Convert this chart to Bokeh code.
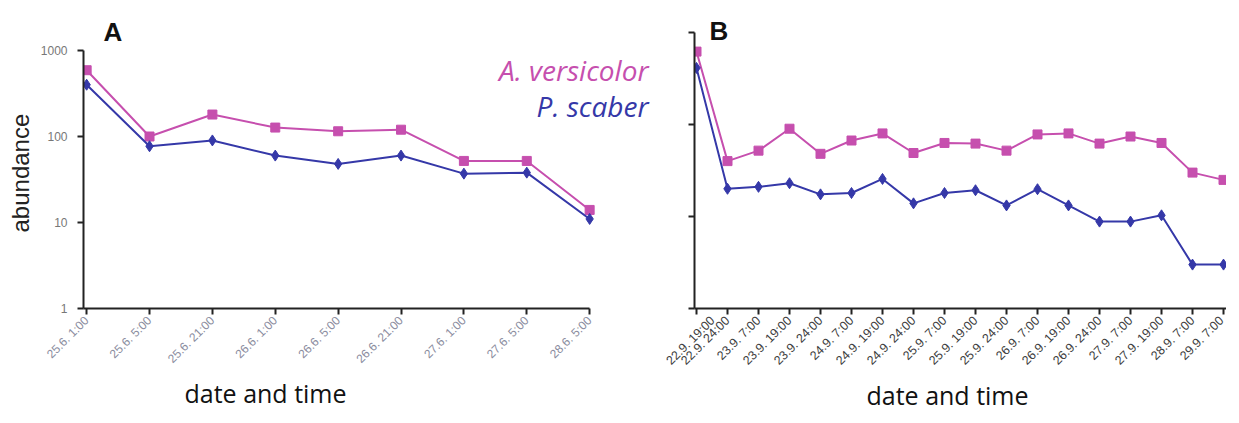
import math
from bokeh.plotting import figure
from bokeh.layouts import row
from bokeh.models import (Range1d, FixedTicker, Label, CustomJSTickFormatter,
                          NumeralTickFormatter, Title)
from bokeh.embed import file_html
from bokeh.resources import INLINE

# ---- data ----
labels_a = ["25.6. 1:00", "25.6. 5:00", "25.6. 21:00", "26.6. 1:00", "26.6. 5:00",
            "26.6. 21:00", "27.6. 1:00", "27.6. 5:00", "28.6. 5:00"]
versicolor_a = [590, 100, 180, 127, 115, 120, 52, 52, 14]
scaber_a = [400, 77, 90, 60, 48, 60, 37, 38, 11]

labels_b = ["22.9. 19:00", "22.9. 24:00", "23.9. 7:00", "23.9. 19:00", "23.9. 24:00",
            "24.9. 7:00", "24.9. 19:00", "24.9. 24:00", "25.9. 7:00", "25.9. 19:00",
            "25.9. 24:00", "26.9. 7:00", "26.9. 19:00", "26.9. 24:00", "27.9. 7:00",
            "27.9. 19:00", "28.9. 7:00", "29.9. 7:00"]
versicolor_b = [620, 40, 52, 90, 48, 67, 80, 49, 63, 62, 52, 78, 80, 62, 74, 63, 30, 25]
scaber_b = [412, 20, 21, 23, 17.4, 18, 25.6, 13.9, 18, 19.3, 13.2, 19.8, 13.2, 8.8, 8.8, 10.3, 3.0, 3.0]

PINK = "#C64FAE"
BLUE = "#3538A8"
FRAME_H = 308        # frame from page y 8 to 316
BOTTOM = 99


def style_axes(p, xlab_color, xlab_size):
    for ax in (p.xaxis[0], p.yaxis[0]):
        ax.axis_line_width = 2
        ax.axis_line_color = "#222222"
        ax.major_tick_line_width = 2
        ax.major_tick_line_color = "#222222"
        ax.major_tick_out = 6
        ax.major_tick_in = 0
        ax.minor_tick_line_color = None
    p.xaxis.major_label_orientation = math.pi / 4
    p.xaxis.major_label_text_color = xlab_color
    p.xaxis.major_label_text_font = "Liberation Sans"
    p.xaxis.major_label_text_font_size = xlab_size
    p.xaxis.major_label_standoff = 4
    p.xgrid.visible = False
    p.ygrid.visible = False
    p.outline_line_color = None


def xtitle(offset):
    return Title(text="date and time", align="left", offset=offset, standoff=0,
                 text_font="Open Sans", text_font_style="normal",
                 text_font_size="25px", text_color="#111111")


# ---- panel A ----
xa = list(range(len(labels_a)))
fwA = 580
pA = figure(frame_width=fwA, frame_height=FRAME_H, y_axis_type="log", output_backend="svg",
            toolbar_location=None, min_border_left=80, min_border_right=0,
            min_border_top=0, min_border_bottom=BOTTOM)
pxA = (591 - 88) / 8.0
startA = -0.05
pA.x_range = Range1d(startA, startA + fwA / pxA)
decA = (316 - 58) / 3.0
pA.y_range = Range1d(1, 10 ** (FRAME_H / decA))
pA.line(xa, versicolor_a, line_color=PINK, line_width=2)
pA.scatter(xa, versicolor_a, marker="square", size=9, fill_color=PINK, line_color=PINK)
pA.line(xa, scaber_a, line_color=BLUE, line_width=2)
pA.scatter(xa, scaber_a, marker="diamond", size=11, fill_color=BLUE, line_color=BLUE)
style_axes(pA, "#8A8C9E", "12px")
pA.xaxis.bounds = (startA, len(labels_a) - 1)
pA.yaxis.bounds = (1, 1000)
pA.xaxis.ticker = FixedTicker(ticks=xa)
pA.xaxis.major_label_overrides = {i: s for i, s in enumerate(labels_a)}
pA.yaxis.ticker = FixedTicker(ticks=[1, 10, 100, 1000])
pA.yaxis.formatter = NumeralTickFormatter(format="0")
pA.yaxis.major_label_text_color = "#777777"
pA.yaxis.major_label_text_font = "Liberation Sans"
pA.yaxis.major_label_text_font_size = "12px"
pA.yaxis.major_label_standoff = 10

pA.add_layout(Title(text="abundance", align="left", offset=76, standoff=8,
                    text_font="Liberation Sans", text_font_style="normal",
                    text_font_size="24px", text_color="#222222"), "left")
pA.add_layout(xtitle(101), "below")

pA.add_layout(Label(x=20, y=316 - 39, x_units="screen", y_units="screen", text="A",
                    text_font="Liberation Sans", text_font_style="bold",
                    text_font_size="26px", text_color="#111111", text_baseline="alphabetic"))
pA.add_layout(Label(x=565, y=316 - 77, x_units="screen", y_units="screen", text="A. versicolor",
                    text_align="right", text_font="Open Sans", text_font_style="italic",
                    text_font_size="28px", text_color=PINK, text_baseline="alphabetic"))
pA.add_layout(Label(x=565, y=316 - 113, x_units="screen", y_units="screen", text="P. scaber",
                    text_align="right", text_font="Open Sans", text_font_style="italic",
                    text_font_size="28px", text_color=BLUE, text_baseline="alphabetic"))

# ---- panel B ----
xb = list(range(len(labels_b)))
fwB = 1231 - 699
pB = figure(frame_width=fwB, frame_height=FRAME_H, y_axis_type="log", output_backend="svg",
            toolbar_location=None, min_border_left=31, min_border_right=0,
            min_border_top=0, min_border_bottom=BOTTOM)
pxB = (1228 - 701) / 17.0
startB = -2.0 / pxB
pB.x_range = Range1d(startB, startB + fwB / pxB)
decB = (316 - 40) / 3.0
pB.y_range = Range1d(1, 10 ** (FRAME_H / decB))
pB.line(xb, versicolor_b, line_color=PINK, line_width=2)
pB.scatter(xb, versicolor_b, marker="square", size=9, fill_color=PINK, line_color=PINK)
pB.line(xb, scaber_b, line_color=BLUE, line_width=2)
pB.scatter(xb, scaber_b, marker="diamond", size=11, fill_color=BLUE, line_color=BLUE)
style_axes(pB, "#3C3C3C", "12.5px")
pB.yaxis.bounds = (1, 1000)
pB.xaxis.ticker = FixedTicker(ticks=xb)
pB.xaxis.major_label_overrides = {i: s for i, s in enumerate(labels_b)}
pB.yaxis.ticker = FixedTicker(ticks=[1, 10, 100, 1000])
pB.yaxis.formatter = CustomJSTickFormatter(code="return ''")

pB.add_layout(xtitle(172), "below")
pB.add_layout(Label(x=15, y=316 - 38, x_units="screen", y_units="screen", text="B",
                    text_font="Liberation Sans", text_font_style="bold",
                    text_font_size="26px", text_color="#111111", text_baseline="alphabetic"))

layout = row(pA, pB)
open("out.html", "w").write(file_html(layout, INLINE))
